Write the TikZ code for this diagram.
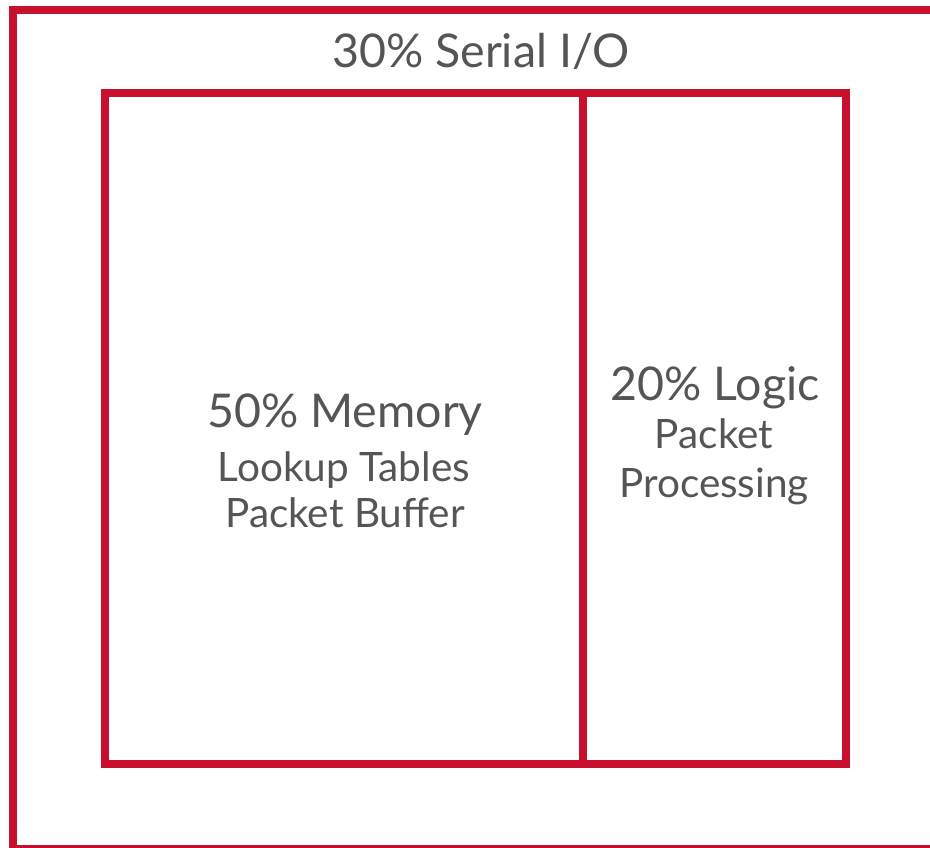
\documentclass[tikz,border=0pt]{standalone}
\usepackage{fontspec}
\setmainfont{Lato}
\definecolor{chipred}{RGB}{200,16,46}
\definecolor{labelgray}{RGB}{85,85,85}
\begin{document}
\begin{tikzpicture}[x=1pt,y=-1pt,
  frame/.style={draw=chipred,line width=8pt},
  head/.style={text=labelgray,anchor=base,inner sep=0pt,font=\fontsize{46.5}{56}\selectfont},
  sub/.style={text=labelgray,anchor=base,inner sep=0pt,font=\fontsize{40.5}{49}\selectfont}]
  \useasboundingbox (0,0) rectangle (930,848);
  \clip (0,0) rectangle (930,848);
  % whole device, partly off the page
  \draw[frame] (13,10) rectangle (945,849);
  % memory and logic blocks
  \draw[frame] (105,93) rectangle (846,764);
  \draw[frame] (583,93) -- (583,764);
  % labels
  \node[head] (io) at (481,68) {30\% Serial I/O};
  \node[head] (mem) at (345,427) {50\% Memory};
  \node[sub] (lut) at (344,481) {Lookup Tables};
  \node[sub] (buf) at (345,527) {Packet Buffer};
  \node[head] (logic) at (715,400) {20\% Logic};
  \node[sub] (pkt) at (714,448) {Packet};
  \node[sub] (proc) at (714,497) {Processing};
\end{tikzpicture}
\end{document}
